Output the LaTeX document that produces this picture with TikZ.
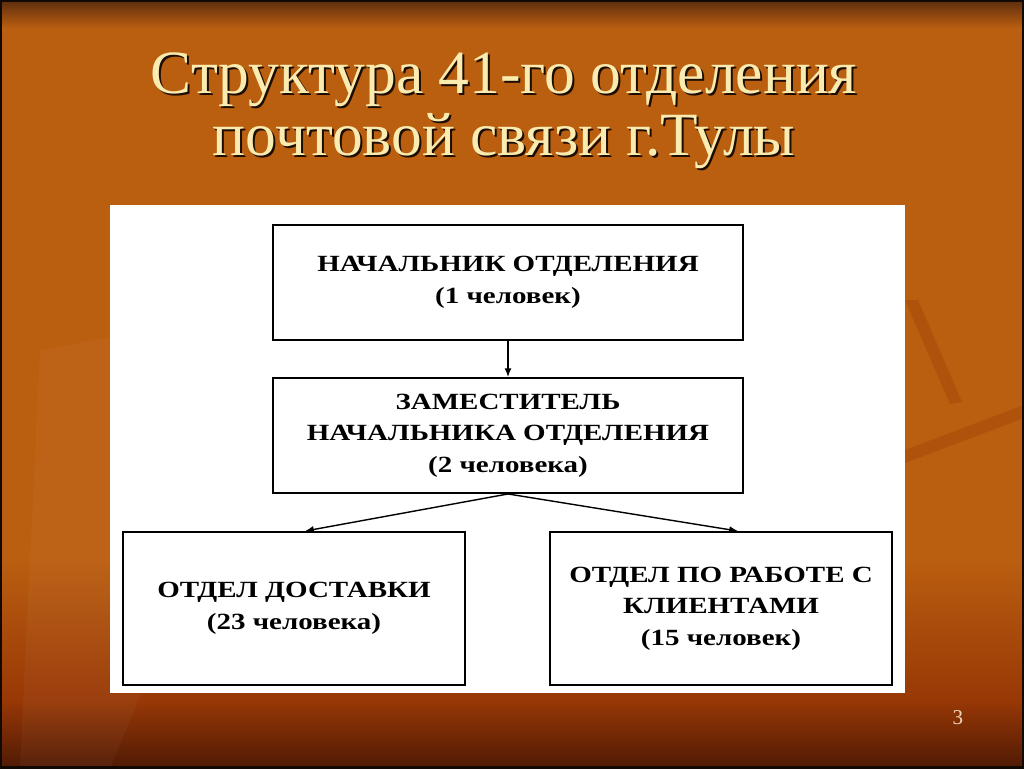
\documentclass[tikz,border=0pt]{standalone}
\usepackage{fontspec}
\setmainfont{Liberation Serif}
\newfontfamily\boxfont{Liberation Serif}[FakeStretch=1.25]
\usetikzlibrary{positioning,arrows.meta}
\definecolor{bgtop}{RGB}{92,44,14}
\definecolor{bgorange}{RGB}{186,94,16}
\definecolor{bgred}{RGB}{152,56,6}
\definecolor{bgbottom}{RGB}{80,26,4}
\definecolor{bgband}{RGB}{174,82,12}
\definecolor{titlecol}{RGB}{250,236,176}
\definecolor{pagecol}{RGB}{240,214,186}
\begin{document}
\begin{tikzpicture}[x=0.02cm, y=-0.02cm,
		unit/.style={draw=black, line width=1.1pt, fill=white, align=center, inner sep=0pt,
			font=\boxfont\bfseries\fontsize{13.2}{18}\selectfont},
		wide/.style={unit, minimum width=9.4cm, minimum height=2.3cm},
		dept/.style={unit, minimum width=6.84cm, minimum height=3.06cm},
		link/.style={-{Latex[length=5pt, width=4pt]}, line width=0.8pt},
		heading/.style={align=center, font=\fontsize{35}{35}\selectfont}]
	\useasboundingbox(0, 0) rectangle (1024, 768);
	% background
	\fill[bgorange](0, 0) rectangle (1024, 768);
	\shade[top color=bgtop, bottom color=bgorange](0, 0) rectangle (1024, 28);
	\shade[top color=bgorange, bottom color=bgred](0, 560) rectangle (1024, 700);
	\shade[top color=bgred, bottom color=bgbottom](0, 700) rectangle (1024, 768);
	\fill[bgband](905, 300) -- (918, 300) -- (962, 402) -- (950, 404) -- cycle;
	\fill[bgband](905, 450) -- (1024, 405) -- (1024, 418) -- (905, 463) -- cycle;
	\fill[white, opacity=.035](20, 768) -- (40, 350) -- (150, 330) -- (230, 480) -- (110, 768) -- cycle;
	\draw[black!80!bgtop, line width=2pt](0, 0) rectangle (1024, 768);
	% title
	\node[heading, text=black!70!bgtop]at(506, 113){Структура 41-го отделения\\почтовой связи г.Тулы};
	\node[heading, text=titlecol](title)at(504, 111){Структура 41-го отделения\\почтовой связи г.Тулы};
	\fill[white](110, 205) rectangle (905, 693);
	% boxes
	\node[wide](head)at(508, 282.5){НАЧАЛЬНИК ОТДЕЛЕНИЯ\\(1 человек)};
	\node[wide](deputy)at(508, 435.5){ЗАМЕСТИТЕЛЬ\\НАЧАЛЬНИКА ОТДЕЛЕНИЯ\\(2 человека)};
	\node[dept](delivery)at(294, 608.5){ОТДЕЛ ДОСТАВКИ\\(23 человека)};
	\node[dept](clients)at(721, 608.5){ОТДЕЛ ПО РАБОТЕ С\\КЛИЕНТАМИ\\(15 человек)};
	% links
	\draw[link](head)--(deputy);
	\draw[link](deputy.south)--(delivery.north-|305, 0);
	\draw[link](deputy.south)--(clients.north-|738, 0);
	\node[text=pagecol, font=\fontsize{12}{14}\selectfont](page)at(958, 718){3};
\end{tikzpicture}
\end{document}
